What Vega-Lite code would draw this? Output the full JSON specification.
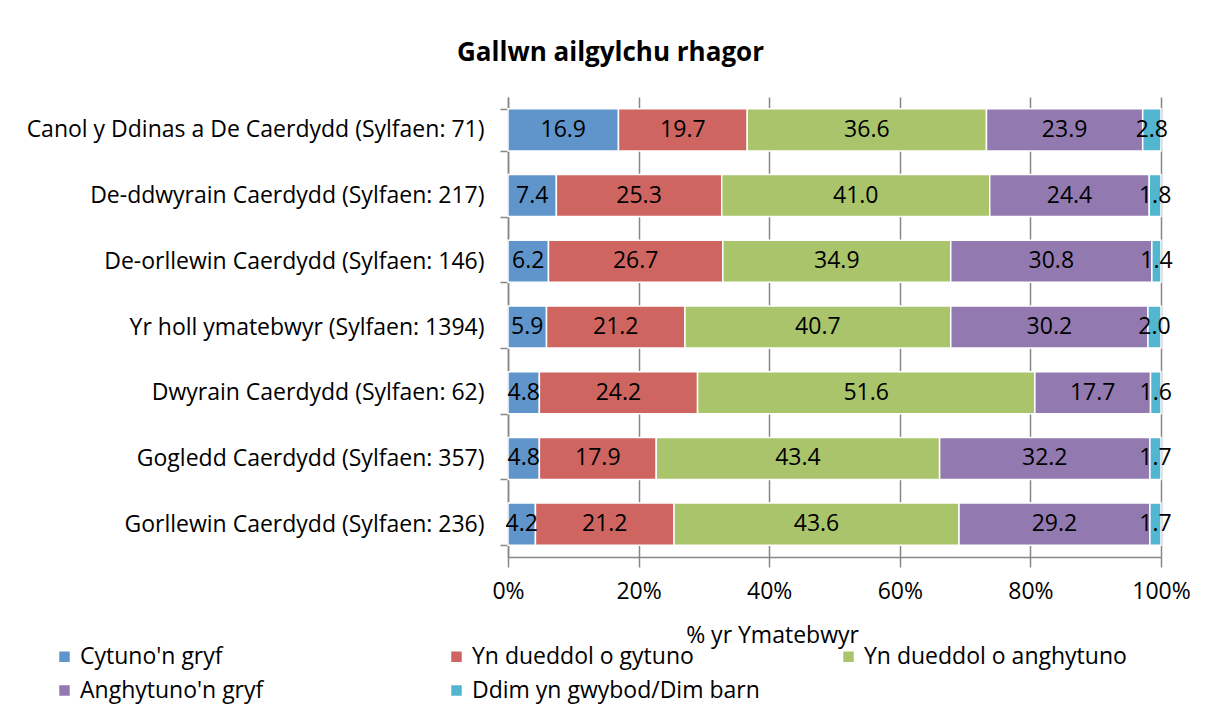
{
  "$schema": "https://vega.github.io/schema/vega-lite/v6.json",
  "width": 653,
  "height": 460,
  "autosize": {"type": "none"},
  "padding": {"left": 508, "top": 97, "right": 44, "bottom": 161},
  "background": "white",
  "title": {
    "text": "Gallwn ailgylchu rhagor",
    "font": "Open Sans",
    "fontSize": 26,
    "fontWeight": "bold",
    "color": "#000000",
    "anchor": "middle",
    "dx": -224,
    "offset": 20
  },
  "config": {
    "font": "Open Sans",
    "view": {"stroke": null},
    "axis": {
      "labelFont": "Open Sans",
      "labelFontSize": 23,
      "labelColor": "#000000",
      "domainColor": "#878787",
      "domainWidth": 1.5,
      "tickColor": "#878787",
      "tickWidth": 1.5,
      "gridColor": "#878787",
      "gridWidth": 1.5
    },
    "legend": {
      "labelFont": "Open Sans",
      "labelFontSize": 23,
      "labelColor": "#000000"
    }
  },
  "data": {
    "values": [
      {"area": "Canol y Ddinas a De Caerdydd (Sylfaen: 71)", "resp": "Cytuno'n gryf", "order": 1, "value": 16.9},
      {"area": "Canol y Ddinas a De Caerdydd (Sylfaen: 71)", "resp": "Yn dueddol o gytuno", "order": 2, "value": 19.7},
      {"area": "Canol y Ddinas a De Caerdydd (Sylfaen: 71)", "resp": "Yn dueddol o anghytuno", "order": 3, "value": 36.6},
      {"area": "Canol y Ddinas a De Caerdydd (Sylfaen: 71)", "resp": "Anghytuno'n gryf", "order": 4, "value": 23.9},
      {"area": "Canol y Ddinas a De Caerdydd (Sylfaen: 71)", "resp": "Ddim yn gwybod/Dim barn", "order": 5, "value": 2.8},
      {"area": "De-ddwyrain Caerdydd (Sylfaen: 217)", "resp": "Cytuno'n gryf", "order": 1, "value": 7.4},
      {"area": "De-ddwyrain Caerdydd (Sylfaen: 217)", "resp": "Yn dueddol o gytuno", "order": 2, "value": 25.3},
      {"area": "De-ddwyrain Caerdydd (Sylfaen: 217)", "resp": "Yn dueddol o anghytuno", "order": 3, "value": 41.0},
      {"area": "De-ddwyrain Caerdydd (Sylfaen: 217)", "resp": "Anghytuno'n gryf", "order": 4, "value": 24.4},
      {"area": "De-ddwyrain Caerdydd (Sylfaen: 217)", "resp": "Ddim yn gwybod/Dim barn", "order": 5, "value": 1.8},
      {"area": "De-orllewin Caerdydd (Sylfaen: 146)", "resp": "Cytuno'n gryf", "order": 1, "value": 6.2},
      {"area": "De-orllewin Caerdydd (Sylfaen: 146)", "resp": "Yn dueddol o gytuno", "order": 2, "value": 26.7},
      {"area": "De-orllewin Caerdydd (Sylfaen: 146)", "resp": "Yn dueddol o anghytuno", "order": 3, "value": 34.9},
      {"area": "De-orllewin Caerdydd (Sylfaen: 146)", "resp": "Anghytuno'n gryf", "order": 4, "value": 30.8},
      {"area": "De-orllewin Caerdydd (Sylfaen: 146)", "resp": "Ddim yn gwybod/Dim barn", "order": 5, "value": 1.4},
      {"area": "Yr holl ymatebwyr (Sylfaen: 1394)", "resp": "Cytuno'n gryf", "order": 1, "value": 5.9},
      {"area": "Yr holl ymatebwyr (Sylfaen: 1394)", "resp": "Yn dueddol o gytuno", "order": 2, "value": 21.2},
      {"area": "Yr holl ymatebwyr (Sylfaen: 1394)", "resp": "Yn dueddol o anghytuno", "order": 3, "value": 40.7},
      {"area": "Yr holl ymatebwyr (Sylfaen: 1394)", "resp": "Anghytuno'n gryf", "order": 4, "value": 30.2},
      {"area": "Yr holl ymatebwyr (Sylfaen: 1394)", "resp": "Ddim yn gwybod/Dim barn", "order": 5, "value": 2.0},
      {"area": "Dwyrain Caerdydd (Sylfaen: 62)", "resp": "Cytuno'n gryf", "order": 1, "value": 4.8},
      {"area": "Dwyrain Caerdydd (Sylfaen: 62)", "resp": "Yn dueddol o gytuno", "order": 2, "value": 24.2},
      {"area": "Dwyrain Caerdydd (Sylfaen: 62)", "resp": "Yn dueddol o anghytuno", "order": 3, "value": 51.6},
      {"area": "Dwyrain Caerdydd (Sylfaen: 62)", "resp": "Anghytuno'n gryf", "order": 4, "value": 17.7},
      {"area": "Dwyrain Caerdydd (Sylfaen: 62)", "resp": "Ddim yn gwybod/Dim barn", "order": 5, "value": 1.6},
      {"area": "Gogledd Caerdydd (Sylfaen: 357)", "resp": "Cytuno'n gryf", "order": 1, "value": 4.8},
      {"area": "Gogledd Caerdydd (Sylfaen: 357)", "resp": "Yn dueddol o gytuno", "order": 2, "value": 17.9},
      {"area": "Gogledd Caerdydd (Sylfaen: 357)", "resp": "Yn dueddol o anghytuno", "order": 3, "value": 43.4},
      {"area": "Gogledd Caerdydd (Sylfaen: 357)", "resp": "Anghytuno'n gryf", "order": 4, "value": 32.2},
      {"area": "Gogledd Caerdydd (Sylfaen: 357)", "resp": "Ddim yn gwybod/Dim barn", "order": 5, "value": 1.7},
      {"area": "Gorllewin Caerdydd (Sylfaen: 236)", "resp": "Cytuno'n gryf", "order": 1, "value": 4.2},
      {"area": "Gorllewin Caerdydd (Sylfaen: 236)", "resp": "Yn dueddol o gytuno", "order": 2, "value": 21.2},
      {"area": "Gorllewin Caerdydd (Sylfaen: 236)", "resp": "Yn dueddol o anghytuno", "order": 3, "value": 43.6},
      {"area": "Gorllewin Caerdydd (Sylfaen: 236)", "resp": "Anghytuno'n gryf", "order": 4, "value": 29.2},
      {"area": "Gorllewin Caerdydd (Sylfaen: 236)", "resp": "Ddim yn gwybod/Dim barn", "order": 5, "value": 1.7}
    ]
  },
  "encoding": {
    "y": {
      "field": "area",
      "type": "nominal",
      "sort": [
        "Canol y Ddinas a De Caerdydd (Sylfaen: 71)",
        "De-ddwyrain Caerdydd (Sylfaen: 217)",
        "De-orllewin Caerdydd (Sylfaen: 146)",
        "Yr holl ymatebwyr (Sylfaen: 1394)",
        "Dwyrain Caerdydd (Sylfaen: 62)",
        "Gogledd Caerdydd (Sylfaen: 357)",
        "Gorllewin Caerdydd (Sylfaen: 236)"
      ],
      "scale": {"paddingInner": 0.36, "paddingOuter": 0.18},
      "axis": {
        "title": null,
        "tickBand": "extent",
        "tickSize": 8,
        "labelPadding": 16,
        "labelLimit": 500
      }
    }
  },
  "layer": [
    {
      "mark": {"type": "bar", "stroke": "white", "strokeWidth": 1.5},
      "encoding": {
        "x": {
          "field": "value",
          "type": "quantitative",
          "stack": "normalize",
          "scale": {"domain": [0, 1], "nice": false},
          "axis": {
            "format": "%",
            "values": [0, 0.2, 0.4, 0.6, 0.8, 1],
            "grid": true,
            "labelFlush": false,
            "tickSize": 10,
            "labelPadding": 13,
            "title": "% yr Ymatebwyr",
            "titleFont": "Open Sans",
            "titleFontSize": 23,
            "titleFontWeight": "normal",
            "titleColor": "#000000",
            "titleX": 264,
            "titleY": 78,
            "titleBaseline": "middle"
          }
        },
        "color": {
          "field": "resp",
          "type": "nominal",
          "scale": {
            "domain": ["Cytuno'n gryf", "Yn dueddol o gytuno", "Yn dueddol o anghytuno", "Anghytuno'n gryf", "Ddim yn gwybod/Dim barn"],
            "range": ["#5F95CB", "#CF6560", "#A9C46A", "#927AB1", "#52B6D0"]
          },
          "legend": {
            "title": null,
            "orient": "none",
            "legendX": -455,
            "legendY": 548,
            "columns": 3,
            "direction": "horizontal",
            "symbolType": "square",
            "symbolSize": 110,
            "symbolStrokeWidth": 0,
            "symbolOffset": 0,
            "labelOffset": 4,
            "rowPadding": 10,
            "columnPadding": 77,
            "gridAlign": "all",
            "labelLimit": 400
          }
        },
        "order": {"field": "order", "type": "quantitative"}
      }
    },
    {
      "mark": {"type": "text", "fontSize": 23, "color": "#000000", "baseline": "middle", "align": "center"},
      "encoding": {
        "x": {
          "field": "value",
          "type": "quantitative",
          "stack": "normalize",
          "bandPosition": 0.5
        },
        "text": {"field": "value", "type": "quantitative", "format": ".1f"},
        "detail": {"field": "resp"},
        "order": {"field": "order", "type": "quantitative"}
      }
    }
  ]
}
